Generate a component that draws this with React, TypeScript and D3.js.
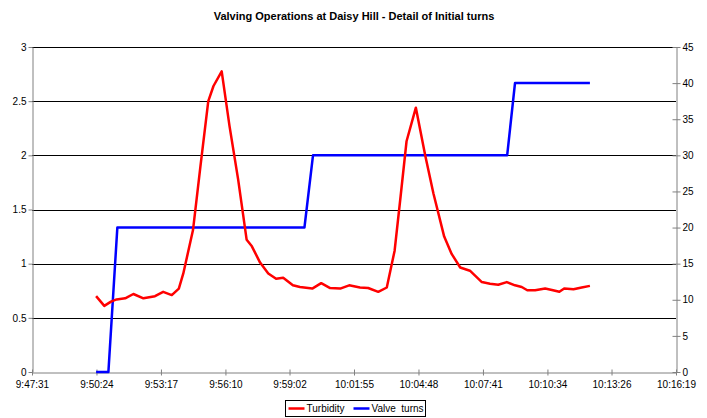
import React, { useEffect, useRef } from 'react'
import * as d3 from 'd3'

const title = 'Valving Operations at Daisy Hill - Detail of Initial turns'

const xTickLabels = ['9:47:31', '9:50:24', '9:53:17', '9:56:10', '9:59:02', '10:01:55', '10:04:48', '10:07:41', '10:10:34', '10:13:26', '10:16:19']
const leftTicks = [0, 0.5, 1, 1.5, 2, 2.5, 3]
const rightTicks = [0, 5, 10, 15, 20, 25, 30, 35, 40, 45]

const turbidityTimes = [
  '9:50:23', '9:50:45', '9:51:03', '9:51:18', '9:51:41', '9:52:03', '9:52:30', '9:53:01', '9:53:23', '9:53:46',
  '9:54:05', '9:54:17', '9:54:43', '9:55:03', '9:55:24', '9:55:38', '9:56:00', '9:56:21', '9:56:44', '9:57:07',
  '9:57:21', '9:57:43', '9:58:05', '9:58:26', '9:58:45', '9:59:11', '9:59:30', '10:00:03', '10:00:27', '10:00:51',
  '10:01:18', '10:01:42', '10:02:11', '10:02:33', '10:03:00', '10:03:23', '10:03:44', '10:04:00', '10:04:16', '10:04:41',
  '10:05:06', '10:05:28', '10:05:57', '10:06:17', '10:06:40', '10:07:06', '10:07:38', '10:08:00', '10:08:22', '10:08:45',
  '10:09:07', '10:09:25', '10:09:40', '10:10:01', '10:10:28', '10:10:46', '10:11:06', '10:11:19', '10:11:44', '10:12:06',
  '10:12:28'
]
const turbidity = [
  0.70, 0.61, 0.65, 0.67, 0.68, 0.72, 0.68, 0.70, 0.74, 0.71,
  0.77, 0.91, 1.31, 1.90, 2.50, 2.64, 2.775, 2.27, 1.78, 1.22,
  1.16, 1.01, 0.91, 0.86, 0.87, 0.80, 0.785, 0.77, 0.82, 0.775,
  0.77, 0.80, 0.78, 0.775, 0.74, 0.78, 1.12, 1.62, 2.13, 2.44,
  2.00, 1.65, 1.25, 1.09, 0.965, 0.935, 0.83, 0.815, 0.805, 0.83,
  0.80, 0.785, 0.755, 0.755, 0.77, 0.757, 0.74, 0.77, 0.763, 0.78,
  0.795
]

const valveTimes = ['9:50:23', '9:50:56', '9:51:20', '9:59:42', '10:00:05', '10:08:46', '10:09:07', '10:12:28']
const valveTurns = [0, 0, 20, 20, 30, 30, 40, 40]

const toSec = (s: string) => {
  const p = s.split(':').map(Number)
  return p[0] * 3600 + p[1] * 60 + p[2]
}

export default function App() {
  const ref = useRef<SVGSVGElement>(null)

  useEffect(() => {
    const svg = d3.select(ref.current)
    svg.selectAll('*').remove()

    const left = 32, right = 676, top = 47, bottom = 372
    const font = 'Liberation Sans, Arial, sans-serif'

    const x = d3.scaleLinear()
      .domain([toSec(xTickLabels[0]), toSec(xTickLabels[xTickLabels.length - 1])])
      .range([left, right])
    const yL = d3.scaleLinear().domain([0, 3]).range([bottom, top])
    const yR = d3.scaleLinear().domain([0, 45]).range([bottom, top])

    svg.append('text')
      .attr('x', 354).attr('y', 20)
      .attr('text-anchor', 'middle')
      .style('font-family', font).style('font-size', '11px').style('font-weight', 'bold')
      .text(title)

    // gridlines
    svg.append('g').selectAll('line')
      .data(leftTicks.filter(d => d > 0))
      .enter().append('line')
      .attr('x1', left).attr('x2', right)
      .attr('y1', d => Math.round(yL(d)) + 0.5).attr('y2', d => Math.round(yL(d)) + 0.5)
      .attr('stroke', '#000').attr('stroke-width', 1)

    // left axis
    const gl = svg.append('g').attr('transform', `translate(${left + 0.5},0)`)
      .call(d3.axisLeft(yL).tickValues(leftTicks).tickSize(4).tickSizeOuter(0).tickFormat(d => String(d)))
    gl.select('.domain').attr('stroke', '#808080')
    gl.selectAll('.tick line').attr('stroke', '#808080')
    gl.selectAll('.tick text').style('font-family', font).style('font-size', '10px').attr('fill', '#000').attr('x', -6)

    // right axis
    const gr = svg.append('g').attr('transform', `translate(${right + 0.5},0)`)
      .call(d3.axisRight(yR).tickValues(rightTicks).tickSize(4).tickSizeOuter(0).tickFormat(d => String(d)))
    gr.select('.domain').attr('stroke', '#808080')
    gr.selectAll('.tick line').attr('stroke', '#808080').attr('x1', -4)
    gr.selectAll('.tick text').style('font-family', font).style('font-size', '10px').attr('fill', '#000').attr('x', 6)

    // bottom axis
    const gb = svg.append('g').attr('transform', `translate(0,${bottom + 0.5})`)
      .call(d3.axisBottom(x).tickValues(xTickLabels.map(toSec)).tickSize(3).tickSizeOuter(0)
        .tickFormat((d, i) => xTickLabels[i]))
    gb.select('.domain').attr('stroke', '#808080')
    gb.selectAll('.tick line').attr('stroke', '#808080').attr('y1', -3)
    gb.selectAll('.tick text').style('font-family', font).style('font-size', '10px').attr('fill', '#000').attr('y', 8)

    const turbData = turbidityTimes.map((t, i) => [toSec(t), turbidity[i]])
    const valveData = valveTimes.map((t, i) => [toSec(t), valveTurns[i]])

    svg.append('path')
      .datum(valveData)
      .attr('fill', 'none').attr('stroke', '#0000ff').attr('stroke-width', 2.5)
      .attr('stroke-linejoin', 'round')
      .attr('d', d3.line<number[]>().x(d => x(d[0])).y(d => yR(d[1])))

    svg.append('path')
      .datum(turbData)
      .attr('fill', 'none').attr('stroke', '#ff0000').attr('stroke-width', 2.5)
      .attr('stroke-linejoin', 'round')
      .attr('d', d3.line<number[]>().x(d => x(d[0])).y(d => yL(d[1])))

    // legend
    const lg = svg.append('g').attr('transform', 'translate(285.5,400.5)')
    lg.append('rect').attr('width', 140).attr('height', 16).attr('fill', '#fff').attr('stroke', '#000')
    const items = [['Turbidity', '#ff0000', 3], ['Valve  turns', '#0000ff', 68]]
    items.forEach(([label, color, off]) => {
      lg.append('line')
        .attr('x1', (off as number)).attr('x2', (off as number) + 16)
        .attr('y1', 8).attr('y2', 8)
        .attr('stroke', color as string).attr('stroke-width', 2.5)
      lg.append('text')
        .attr('x', (off as number) + 18).attr('y', 11.5)
        .style('font-family', font).style('font-size', '10px').style('white-space', 'pre')
        .text(label as string)
    })
  }, [])

  return (
    <svg ref={ref} width={707} height={418}
      style={{ position: 'absolute', left: 0, top: 0, background: '#fff' }} />
  )
}
